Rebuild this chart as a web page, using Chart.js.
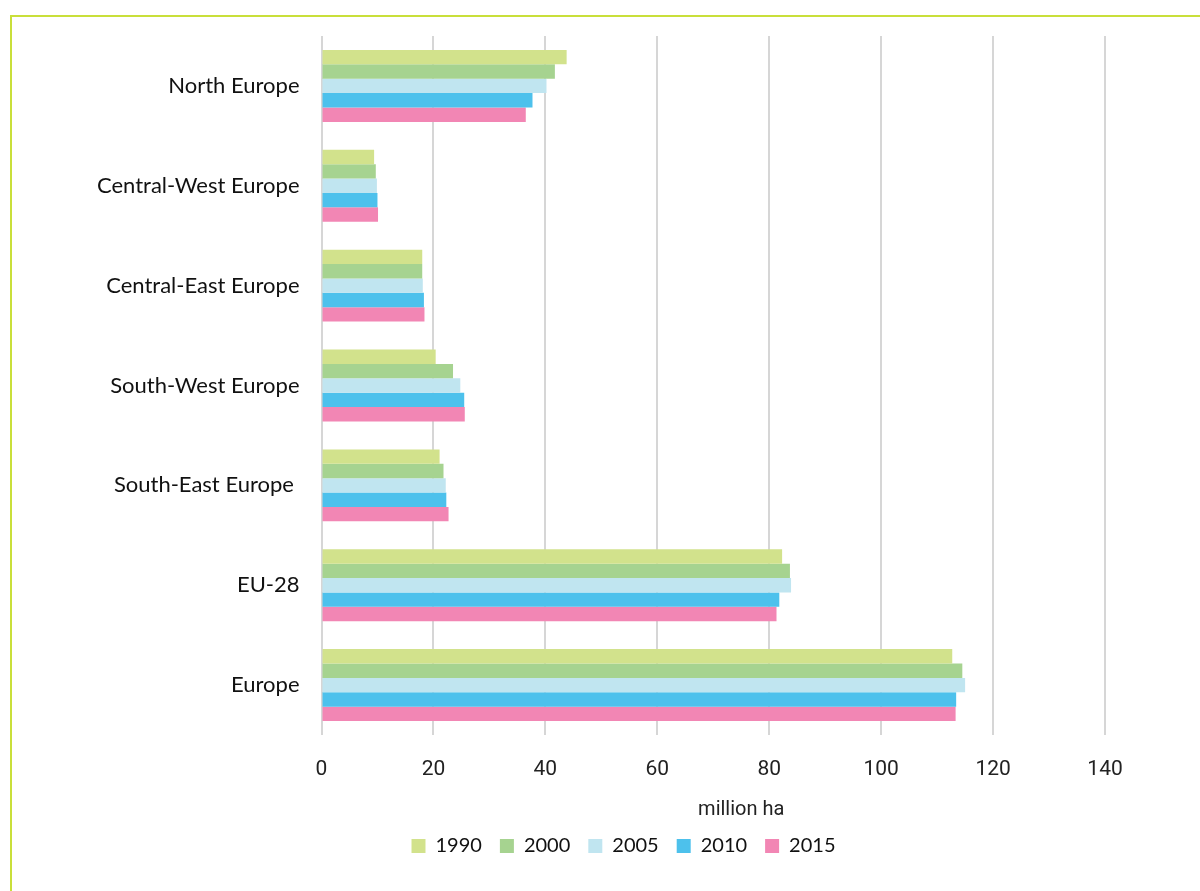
<!DOCTYPE html>
<html>
<head>
<meta charset="utf-8">
<script src="https://cdn.jsdelivr.net/npm/chart.js@4.4.1/dist/chart.umd.min.js"></script>
<style>
  html, body { margin: 0; padding: 0; background: #fff; width: 1200px; height: 891px; overflow: hidden; }
  #frame { position: absolute; left: 10px; top: 15px; width: 1190px; height: 876px;
           border-left: 2px solid #c9df3a; border-top: 2px solid #c9df3a; box-sizing: border-box; }
  #wrap { position: absolute; left: 0; top: 0; width: 1188px; height: 874px; }
</style>
</head>
<body>
<div id="frame"><div id="wrap"><canvas id="c"></canvas></div></div>
<script>
const categories = ["North Europe", "Central-West Europe", "Central-East Europe", "South-West Europe", "South-East Europe ", "EU-28", "Europe"];
const years = ["1990", "2000", "2005", "2010", "2015"];
const values1990 = [43.8, 9.4, 18.0, 20.4, 21.1, 82.3, 112.7];
const values2000 = [41.7, 9.7, 18.0, 23.5, 21.8, 83.7, 114.5];
const values2005 = [40.2, 9.9, 18.1, 24.8, 22.2, 83.9, 115.0];
const values2010 = [37.7, 10.0, 18.3, 25.5, 22.3, 81.8, 113.4];
const values2015 = [36.5, 10.1, 18.4, 25.6, 22.7, 81.3, 113.3];
const xTickLabels = ["0", "20", "40", "60", "80", "100", "120", "140"];
const colors = ["#d2e28c", "#a6d390", "#c0e5f0", "#4dc1ec", "#f286b4"];

const seriesValues = [values1990, values2000, values2005, values2010, values2015];
const datasets = years.map((y, i) => ({
  label: y,
  data: seriesValues[i],
  backgroundColor: colors[i],
  borderColor: colors[i],
  borderWidth: 0,
  categoryPercentage: 0.72,
  barPercentage: 1.0
}));

new Chart(document.getElementById("c"), {
  type: "bar",
  data: { labels: categories, datasets },
  options: {
    indexAxis: "y",
    responsive: true,
    maintainAspectRatio: false,
    animation: false,
    layout: { padding: { left: 74, right: 39, top: 19, bottom: 25 } },
    plugins: {
      tooltip: { enabled: false },
      legend: {
        position: "bottom",
        labels: {
          font: { family: "Lato", size: 20 },
          color: "#111",
          boxWidth: 14,
          boxHeight: 14,
          padding: 18
        }
      }
    },
    scales: {
      x: {
        min: 0,
        max: 150,
        ticks: {
          stepSize: 20,
          padding: 22,
          color: "#222",
          font: { family: "Roboto", size: 21 },
          callback: (v) => { const s = String(v); return xTickLabels.includes(s) ? s : ""; }
        },
        grid: {
          drawTicks: false,
          lineWidth: 2,
          color: (ctx) => (ctx.tick && ctx.tick.value > 140) ? "rgba(0,0,0,0)" : "#d6d6d6"
        },
        border: { display: false },
        title: {
          display: true,
          text: "million ha",
          color: "#222",
          font: { family: "Roboto", size: 20 },
          padding: { top: 10, bottom: -4 }
        },
        afterFit: (s) => { s.height = 83; }
      },
      y: {
        ticks: {
          color: "#111",
          font: { family: "Lato", size: 22 },
          padding: 22
        },
        grid: { display: false, drawTicks: false },
        border: { display: false },
        afterFit: (s) => { s.width = 235.5; s.paddingTop = 0; s.paddingBottom = 0; }
      }
    }
  }
});
</script>
</body>
</html>
